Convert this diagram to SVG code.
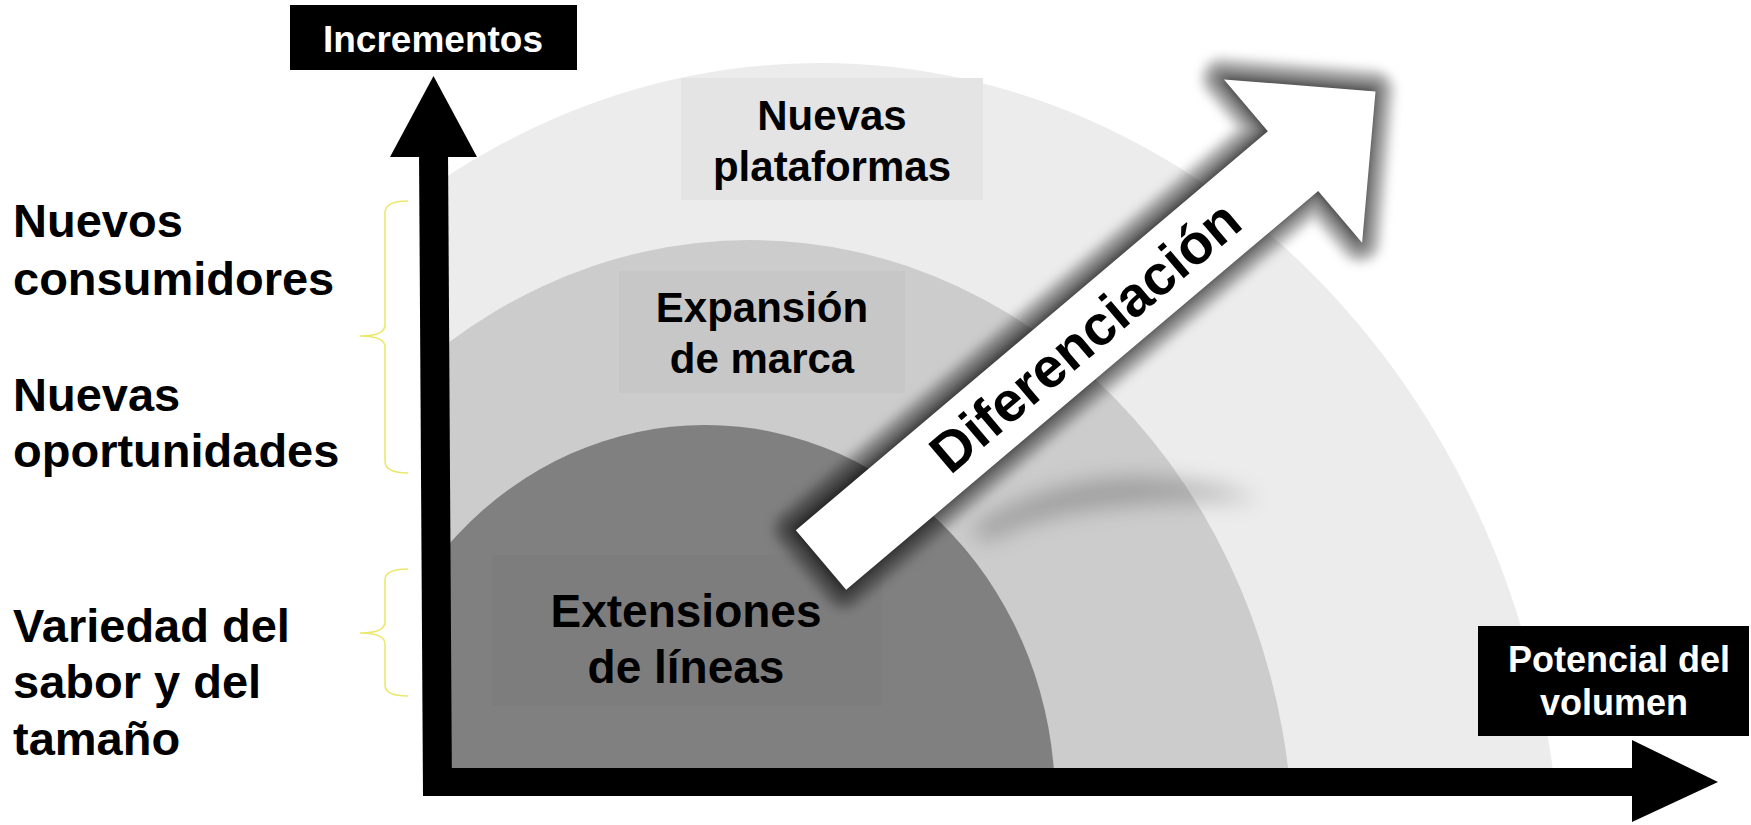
<svg xmlns="http://www.w3.org/2000/svg" width="1751" height="825" viewBox="0 0 1751 825">
<defs>
<style>
.t{font-family:"Liberation Sans",Arial,Helvetica,sans-serif;font-weight:bold}
.lbl{font-size:47px;fill:#000}
.zt{text-anchor:middle;fill:#000}
.wt{fill:#fff;text-anchor:middle}
.brace{fill:none;stroke:#ece86e;stroke-width:1.6}
.ax{fill:#000}
.gl{fill:#000;fill-opacity:0.14;stroke:#000;stroke-linejoin:round;stroke-opacity:0.14}
</style>
<clipPath id="quad"><rect x="445" y="0" width="1306" height="770"/></clipPath>
<path id="darrow" d="M0,-39 L618,-39 L618,-107 L726,0 L618,107 L618,39 L0,39 Z"/>
<filter id="soft" filterUnits="userSpaceOnUse" x="0" y="0" width="1751" height="825">
<feGaussianBlur stdDeviation="5"/>
</filter>
<filter id="blur2" x="-30%" y="-80%" width="160%" height="260%"><feGaussianBlur stdDeviation="11"/></filter>
</defs>
<rect width="1751" height="825" fill="#fff"/>

<g id="zone-nuevas-plataformas" clip-path="url(#quad)">
<ellipse cx="820" cy="900" rx="742" ry="837" fill="#ececec"/>
<rect x="681" y="78" width="302" height="122" fill="#e4e4e4"/>
<text class="t zt" font-size="42" x="832" y="130">Nuevas</text>
<text class="t zt" font-size="42" x="832" y="181">plataformas</text>
</g>
<g id="zone-expansion-marca" clip-path="url(#quad)">
<ellipse cx="750" cy="850" rx="543" ry="610" fill="#cccccc"/>
<rect x="619" y="271" width="286" height="122" fill="#c7c7c7"/>
<text class="t zt" font-size="42" x="762" y="322">Expansión</text>
<text class="t zt" font-size="42" x="762" y="373">de marca</text>
</g>
<g id="zone-extensiones-lineas" clip-path="url(#quad)">
<ellipse cx="705" cy="800" rx="350" ry="375" fill="#808080"/>
<rect x="492" y="555" width="390" height="151" fill="#7d7d7d"/>
<text class="t zt" font-size="46" x="686" y="627">Extensiones</text>
<text class="t zt" font-size="46" x="686" y="683">de líneas</text>
</g>

<g id="diferenciacion-arrow">
<path d="M972,528 Q1040,482 1130,478 Q1215,480 1258,500 Q1170,498 1095,508 Q1025,518 985,542 Z" fill="#444" opacity="0.35" filter="url(#blur2)"/>
<g filter="url(#soft)">
<g transform="translate(819,559) rotate(-40.2)">
<use href="#darrow" class="gl" stroke-width="44"/>
<use href="#darrow" class="gl" stroke-width="36"/>
<use href="#darrow" class="gl" stroke-width="28"/>
<use href="#darrow" class="gl" stroke-width="20"/>
<use href="#darrow" class="gl" stroke-width="12"/>
</g>
</g>
<use href="#darrow" transform="translate(821,560) rotate(-40.2)" fill="#fff"/>
<text class="t" transform="translate(821,560) rotate(-40.2)" x="346" y="19" font-size="56" text-anchor="middle" fill="#000">Diferenciación</text>
</g>

<g id="connectors">
<polygon class="ax" points="419,150 448,150 452,796 423,796"/>
<polygon class="ax" points="390,157 433.5,76 477,157"/>
<rect class="ax" x="441" y="768" width="1192" height="28"/>
<polygon class="ax" points="1632,740 1718,782 1632,822"/>
<path class="brace" d="M408,201 Q385,201 385,213 L385,325 Q385,336 360,336 Q385,336 385,347 L385,461 Q385,473 408,473"/>
<path class="brace" d="M408,569 Q385,569 385,580 L385,622 Q385,633 360,633 Q385,633 385,644 L385,685 Q385,696 408,696"/>
</g>

<g id="axis-incrementos">
<rect x="290" y="5" width="287" height="65" fill="#000"/>
<text class="t wt" font-size="37" x="433" y="52">Incrementos</text>
</g>
<g id="axis-potencial">
<rect x="1478" y="626" width="271" height="110" fill="#000"/>
<text class="t wt" font-size="36" x="1619" y="672">Potencial del</text>
<text class="t wt" font-size="36" x="1614" y="715">volumen</text>
</g>

<g id="label-nuevos-consumidores">
<text class="t lbl" x="13" y="237">Nuevos</text>
<text class="t lbl" x="13" y="295">consumidores</text>
</g>
<g id="label-nuevas-oportunidades">
<text class="t lbl" x="13" y="411">Nuevas</text>
<text class="t lbl" x="13" y="467">oportunidades</text>
</g>
<g id="label-variedad">
<text class="t lbl" x="13" y="642">Variedad del</text>
<text class="t lbl" x="13" y="698">sabor y del</text>
<text class="t lbl" x="13" y="755">tamaño</text>
</g>
</svg>
